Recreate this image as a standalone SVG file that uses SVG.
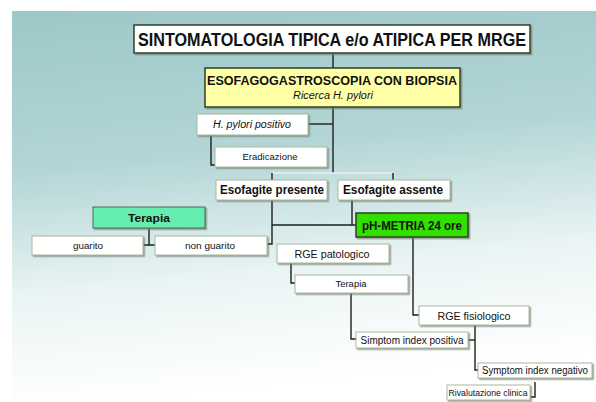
<svg xmlns="http://www.w3.org/2000/svg" width="596" height="402" viewBox="0 0 596 402">
<defs>
<linearGradient id="bg" x1="0" y1="0" x2="0.15" y2="1">
<stop offset="0" stop-color="#9dc8c8"/>
<stop offset="0.4" stop-color="#b3d5d6"/>
<stop offset="0.72" stop-color="#eaf4f4"/>
<stop offset="1" stop-color="#ffffff"/>
</linearGradient>
<filter id="sh" x="-10%" y="-10%" width="130%" height="150%">
<feDropShadow dx="1.5" dy="1.5" stdDeviation="0.6" flood-color="#6f7f70" flood-opacity="0.7"/>
</filter>
</defs>
<style>
.box{fill:#ffffff;stroke:#a9b89c;stroke-width:1;filter:url(#sh)}
.main{stroke:#2f3f22;stroke-width:1.5;filter:url(#sh)}
.t{font-family:"Liberation Sans",Arial,sans-serif;fill:#111;text-anchor:middle}
.b{font-weight:bold}
.i{font-style:italic}
.ln{fill:none;stroke:#1e1e1e;stroke-width:1.4}
.lt{fill:none;stroke:#e8eeee;stroke-width:1.4}
</style>
<rect x="0" y="0" width="596" height="402" fill="#ffffff"/>
<rect x="12" y="11" width="584" height="391" fill="url(#bg)"/>

<g id="connectors">
<path class="ln" d="M333 53 V68"/>
<path class="ln" d="M333 107 V173"/>
<path class="ln" d="M308 124 H333"/>
<path class="ln" d="M211 135 V165 H215"/>
<path class="lt" d="M272 173 H393"/>
<path class="ln" d="M272 173 V180 M393 173 V180" stroke-width="1"/>
<path class="ln" d="M272 200 V244 H267"/>
<path class="ln" d="M352 200 V225"/>
<path class="ln" d="M272 225 H356"/>
<path class="ln" d="M149 228 V245 M143 245 H155"/>
<path class="lt" d="M389 253 H413"/>
<path class="ln" d="M413 237 V315 H419"/>
<path class="ln" d="M291 263 V283 H295"/>
<path class="ln" d="M351 293 V339 H356"/>
<path class="ln" d="M468 340 H475"/>
<path class="ln" d="M475 325 V370 H478"/>
<path class="ln" d="M535 382 V397 H530"/>
</g>

<g id="title">
<rect class="box main" x="134" y="25" width="396" height="28"/>
<text class="t b" x="332" y="45.5" font-size="17.5" textLength="388" lengthAdjust="spacingAndGlyphs">SINTOMATOLOGIA TIPICA e/o ATIPICA PER MRGE</text>
</g>

<g id="esofagogastroscopia">
<rect class="box main" x="205" y="68" width="255" height="39" style="fill:#ffffa6"/>
<text class="t b" x="332" y="85" font-size="13" textLength="250" lengthAdjust="spacingAndGlyphs">ESOFAGOGASTROSCOPIA CON BIOPSIA</text>
<text class="t i" x="333" y="99" font-size="10" textLength="80" lengthAdjust="spacingAndGlyphs">Ricerca H. pylori</text>
</g>

<g id="hpylori">
<rect class="box" x="197" y="114" width="111" height="21"/>
<text class="t i" x="252" y="128" font-size="10" textLength="78" lengthAdjust="spacingAndGlyphs">H. pylori positivo</text>
</g>

<g id="eradicazione">
<rect class="box" x="215" y="147" width="112" height="20"/>
<text class="t" x="270" y="160" font-size="9" textLength="55" lengthAdjust="spacingAndGlyphs">Eradicazione</text>
</g>

<g id="esofagite-presente">
<rect class="box" x="216" y="180" width="111" height="20"/>
<text class="t b" x="272" y="194" font-size="12" textLength="104" lengthAdjust="spacingAndGlyphs">Esofagite presente</text>
</g>

<g id="esofagite-assente">
<rect class="box" x="338" y="180" width="112" height="20"/>
<text class="t b" x="393" y="194" font-size="12" textLength="100" lengthAdjust="spacingAndGlyphs">Esofagite assente</text>
</g>

<g id="terapia-esofagite">
<rect class="box" x="93" y="207" width="112" height="21" style="fill:#66eeb0;stroke:#4a6a50"/>
<text class="t b" x="149" y="222" font-size="11" textLength="42" lengthAdjust="spacingAndGlyphs">Terapia</text>
</g>

<g id="phmetria">
<rect class="box main" x="356" y="213" width="112" height="24" style="fill:#33e000"/>
<text class="t b" x="412" y="229.5" font-size="12" textLength="100" lengthAdjust="spacingAndGlyphs">pH-METRIA 24 ore</text>
</g>

<g id="guarito">
<rect class="box" x="32" y="236" width="111" height="19"/>
<text class="t" x="88" y="249" font-size="9" textLength="30" lengthAdjust="spacingAndGlyphs">guarito</text>
</g>

<g id="non-guarito">
<rect class="box" x="155" y="236" width="112" height="19"/>
<text class="t" x="210" y="249" font-size="9" textLength="50" lengthAdjust="spacingAndGlyphs">non guarito</text>
</g>

<g id="rge-patologico">
<rect class="box" x="277" y="244" width="112" height="19"/>
<text class="t" x="332" y="257.5" font-size="11" textLength="75" lengthAdjust="spacingAndGlyphs">RGE patologico</text>
</g>

<g id="terapia-rge">
<rect class="box" x="295" y="275" width="113" height="18"/>
<text class="t" x="351" y="287" font-size="9" textLength="31" lengthAdjust="spacingAndGlyphs">Terapia</text>
</g>

<g id="rge-fisiologico">
<rect class="box" x="419" y="306" width="110" height="19"/>
<text class="t" x="474" y="319.5" font-size="11" textLength="73" lengthAdjust="spacingAndGlyphs">RGE fisiologico</text>
</g>

<g id="symptom-positivo">
<rect class="box" x="356" y="332" width="112" height="16"/>
<text class="t" x="412" y="343.5" font-size="10" textLength="103" lengthAdjust="spacingAndGlyphs">Simptom index positiva</text>
</g>

<g id="symptom-negativo">
<rect class="box" x="478" y="363" width="114" height="15"/>
<text class="t" x="535" y="374" font-size="10" textLength="106" lengthAdjust="spacingAndGlyphs">Symptom index negativo</text>
</g>

<g id="rivalutazione">
<rect class="box" x="447" y="385" width="83" height="15"/>
<text class="t" x="488" y="396" font-size="9" textLength="79" lengthAdjust="spacingAndGlyphs">Rivalutazione clinica</text>
</g>
</svg>
